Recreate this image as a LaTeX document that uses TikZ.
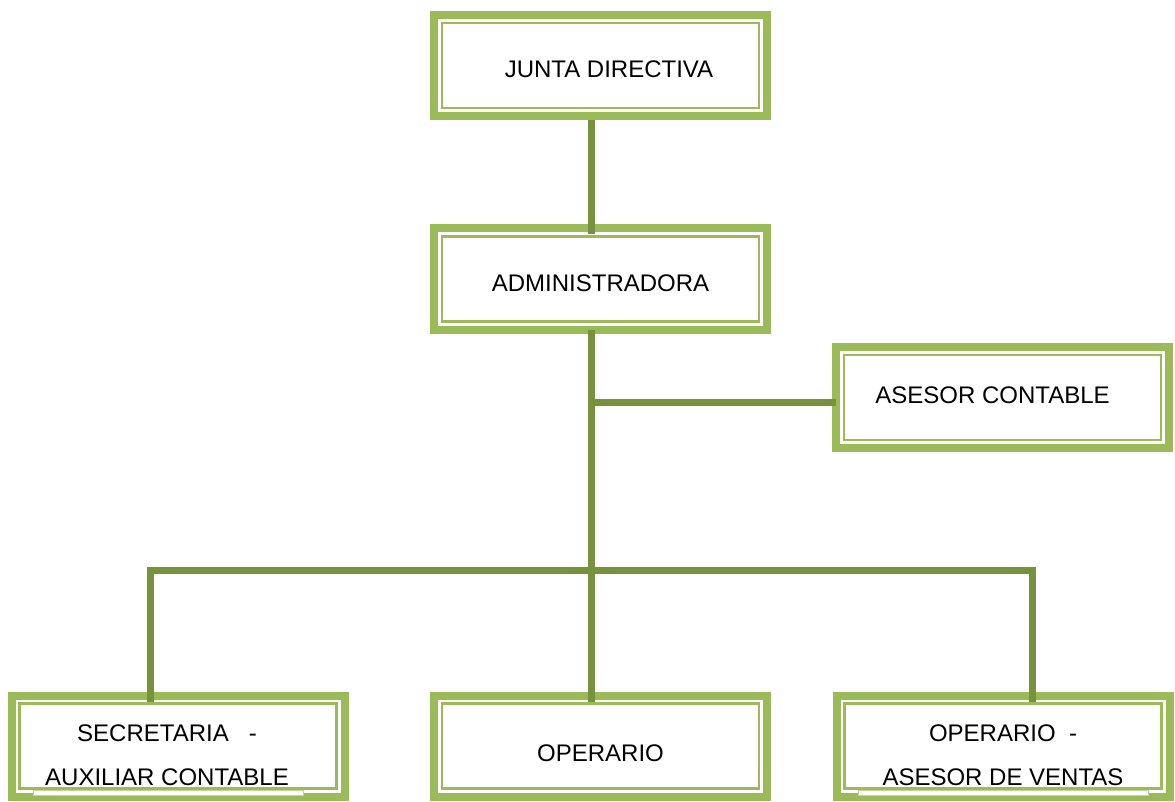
\documentclass[tikz,border=0pt]{standalone}
\usepackage{fontspec}
\setmainfont{Liberation Sans}
\definecolor{boxgreen}{HTML}{9BBB59}
\definecolor{linegreen}{HTML}{76923C}
\definecolor{palegreen}{HTML}{C3D69B}
\newcommand{\shiftdown}[2]{\raisebox{-#1}[\height][\depth]{#2}}
\begin{document}
\begin{tikzpicture}[x=1pt,y=-1pt,
  orgbox/.style={draw=boxgreen, line width=8pt, fill=white, inner sep=0pt, outer sep=0pt,
    minimum width=333pt, minimum height=101pt,
    font=\fontsize{24}{29}\selectfont,
    path picture={\draw[boxgreen, line width=2.2pt]
      ([shift={(8pt,-8pt)}]path picture bounding box.north west) rectangle
      ([shift={(-8pt,8pt)}]path picture bounding box.south east);}},
  conn/.style={draw=linegreen, line width=7pt, line join=miter},
  strip/.style={draw=palegreen, line width=0.8pt, fill=white}
]
\useasboundingbox (0,0) rectangle (1175,802);
\fill[white] (0,0) rectangle (1175,802);

\node[orgbox] (junta) at (600.5,65.5) {\shiftdown{4pt}{\hspace*{17pt}JUNTA DIRECTIVA}};
\node[orgbox] (admin) at (600.5,279) {\shiftdown{4pt}{ADMINISTRADORA}};
\node[orgbox] (asesor) at (1002.5,397.5) {\shiftdown{-2pt}{ASESOR CONTABLE\hspace*{20pt}}};
\node[orgbox] (sec) at (178,746) {\shiftdown{12pt}{\begin{tabular}{@{}c@{}}SECRETARIA\ \ \ -\\[15pt]AUXILIAR CONTABLE\end{tabular}}\hspace*{22pt}};
\node[orgbox] (oper) at (600.5,746) {\shiftdown{7pt}{OPERARIO}};
\node[orgbox] (opas) at (1003,746) {\shiftdown{12pt}{\begin{tabular}{@{}c@{}}OPERARIO\ \ -\\[15pt]ASESOR DE VENTAS\end{tabular}}};

% small strips near bottom of two boxes
\draw[strip] (33,790) rectangle (303,795);
\draw[strip] (858,790) rectangle (1148,795);

\coordinate (v) at (591,0);
\coordinate (b1) at (591,402);
\coordinate (bl) at (150,570);
\coordinate (br) at (1032,570);

\draw[conn, shorten <=4pt, shorten >=-6pt] (junta.south -| v) -- (admin.north -| v);
\draw[conn, shorten >=-6pt] (admin.south -| v) -- (oper.north -| v);
\draw[conn] (b1) -- (asesor.west |- b1);
\draw[conn, shorten <=-6pt, shorten >=-6pt] (bl |- sec.north) -- (bl) -- (br) -- (br |- opas.north);
\end{tikzpicture}
\end{document}
